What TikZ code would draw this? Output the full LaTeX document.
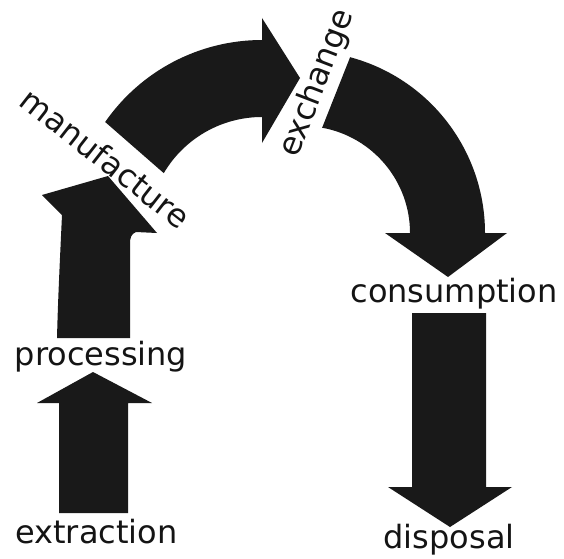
\documentclass[tikz,border=0pt]{standalone}
\usepackage{fontspec}
\setmainfont{DejaVu Sans}
\begin{document}
\begin{tikzpicture}[x=1pt,y=1pt,
  blockarrow/.style={fill=black!90, draw=none},
  label/.style={inner sep=0pt, text=black!92, font=\fontsize{32}{38}\selectfont, anchor=base}]
\useasboundingbox (0,0) rectangle (564,558);
% text nodes
\node[label] (extraction) at (96.5,15) {extraction};
\node[label] (processing) at (101,193) {processing};
\node[label, rotate=-38] (manufacture) at (98.5,390.5) {manufacture};
\node[label, rotate=69] (exchange) at (325.5,471.5) {exchange};
\node[label] (consumption) at (454,256) {consumption};
\node[label] (disposal) at (449,10) {disposal};
% arrow 1: extraction -> processing
\fill[blockarrow] (59,45) -- (59,155) -- (37,155) -- (93,186) -- (152,155) -- (128,155) -- (128,45) -- cycle;
% arrow 2: processing -> manufacture
\fill[blockarrow] (57,220) .. controls (58,260) and (60,300) .. (62,343)
  -- (42,363) -- (108,382) -- (157,325) -- (136,326)
  .. controls (131,324) and (130,320) .. (130,314) -- (130,220) -- cycle;
% arrow 3: manufacture -> exchange
\coordinate (c3) at (262,327);
\fill[blockarrow] (c3) ++(145.2:191) arc[start angle=145.2, end angle=90, radius=191]
  -- (262,540) -- (300,480) -- (262,415) -- (262,441)
  arc[start angle=90, end angle=149.5, radius=114] -- cycle;
% arrow 4: exchange -> consumption
\coordinate (c4) at (303,325);
\fill[blockarrow] (c4) ++(75:182) arc[start angle=75, end angle=0, radius=182]
  -- (507,325) -- (448,281) -- (385,325) -- (410,325)
  arc[start angle=0, end angle=79.7, radius=107] -- cycle;
% arrow 5: consumption -> disposal
\fill[blockarrow] (412,245) -- (412,71) -- (388,71) -- (450,31) -- (512,71) -- (486,71) -- (486,245) -- cycle;
\end{tikzpicture}
\end{document}
